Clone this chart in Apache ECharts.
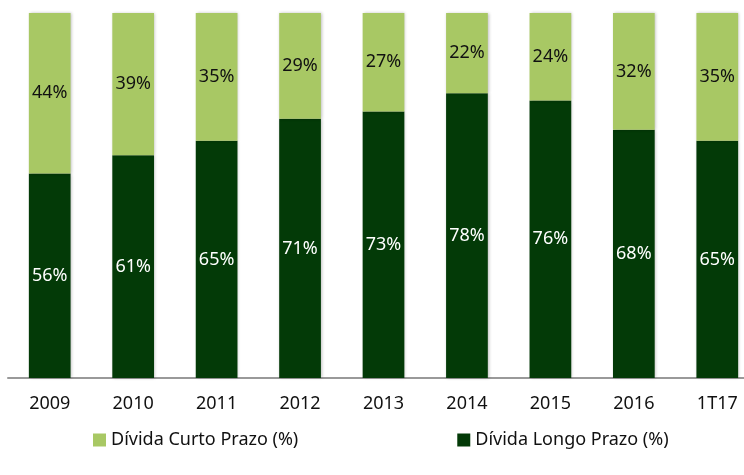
<!DOCTYPE html>
<html>
<head>
<meta charset="utf-8">
<script src="https://cdn.jsdelivr.net/npm/echarts@6/dist/echarts.min.js"></script>
<style>
  html, body { margin: 0; padding: 0; background: #fff; }
</style>
</head>
<body>
<div id="chart" style="width: 744px;height: 475px"></div>
<script>
const categories = ['2009', '2010', '2011', '2012', '2013', '2014', '2015', '2016', '1T17']
const longoPrazo = [56, 61, 65, 71, 73, 78, 76, 68, 65]
const curtoPrazo = [44, 39, 35, 29, 27, 22, 24, 32, 35]

const fontFamily = '"Noto Sans", sans-serif'
const lightGreen = '#a8c864'
const darkGreen = '#033a07'

const chart = echarts.init(document.getElementById('chart'))
const options = {
  animation: false,
  grid: {
    left: 8,
    width: 751,
    top: 13,
    bottom: 97,
    outerBoundsMode: 'none'
  },
  legend: {
    data: ['Dívida Curto Prazo (%)', 'Dívida Longo Prazo (%)'],
    left: 88,
    top: 426,
    itemWidth: 13,
    itemHeight: 13,
    itemGap: 159,
    icon: 'rect',
    textStyle: {
      fontFamily: fontFamily,
      fontSize: 18,
      color: '#111'
    }
  },
  xAxis: {
    type: 'category',
    data: categories,
    axisLine: {
      show: true,
      lineStyle: { color: '#999', width: 2 }
    },
    axisTick: { show: false },
    axisLabel: {
      margin: 17,
      fontFamily: fontFamily,
      fontSize: 18,
      color: '#111'
    }
  },
  yAxis: {
    type: 'value',
    min: 0,
    max: 100,
    show: false,
    splitLine: { show: false }
  },
  series: [{
    name: 'Dívida Longo Prazo (%)',
    type: 'bar',
    stack: 'total',
    barWidth: '50%',
    itemStyle: {
      color: darkGreen,
      shadowColor: 'rgba(0,0,0,0.25)',
      shadowBlur: 3,
      shadowOffsetX: 1
    },
    label: {
      show: true,
      position: 'inside',
      formatter: '{c}%',
      color: '#fff',
      fontFamily: fontFamily,
      fontSize: 18
    },
    data: longoPrazo
  }, {
    name: 'Dívida Curto Prazo (%)',
    type: 'bar',
    stack: 'total',
    barWidth: '50%',
    itemStyle: {
      color: lightGreen,
      shadowColor: 'rgba(0,0,0,0.25)',
      shadowBlur: 3,
      shadowOffsetX: 1
    },
    label: {
      show: true,
      position: 'inside',
      formatter: '{c}%',
      color: '#111',
      fontFamily: fontFamily,
      fontSize: 18
    },
    data: curtoPrazo
  }]
}
chart.setOption(options)
</script>
</body>
</html>
